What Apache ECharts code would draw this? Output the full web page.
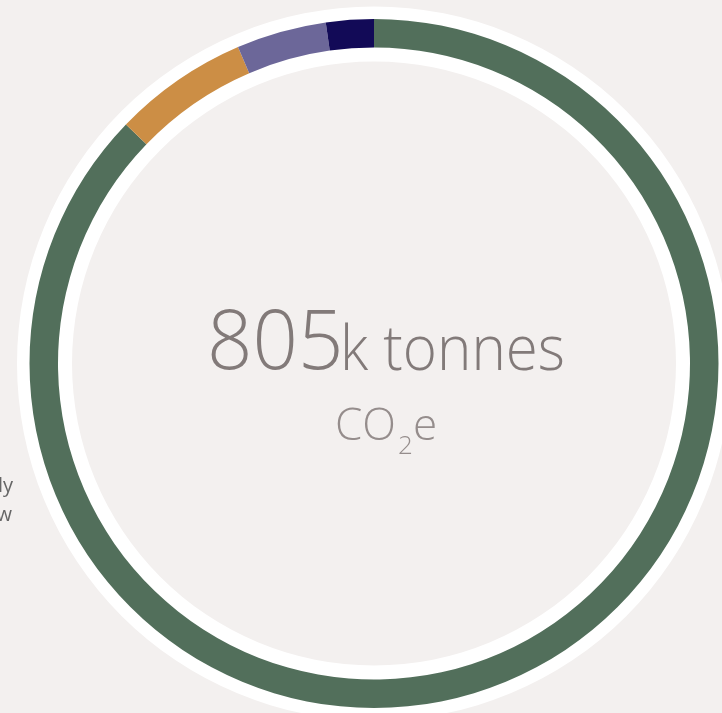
<!DOCTYPE html>
<html>
<head>
<meta charset="utf-8">
<script src="https://cdn.jsdelivr.net/npm/echarts@6/dist/echarts.min.js"></script>
<style>
html,body{margin:0;padding:0;background:#f3f0ef;}
#c{width:722px;height:713px;}
</style>
</head>
<body>
<div id="c"></div>
<script>
const categories = ['Green', 'Orange', 'Purple', 'Navy'];
const values = [702, 51, 34, 18];
const colors = ['#526f5b', '#cc8e45', '#6c6799', '#120a57'];
const totalLabel = '805';
const unitLabel = 'k tonnes';
const sideLines = ['ly', 'w'];

const chart = echarts.init(document.getElementById('c'), null, {renderer: 'canvas'});
const font = '"Open Sans", "Noto Sans", sans-serif';
chart.setOption({
  backgroundColor: '#f3f0ef',
  animation: false,
  series: [
    {
      type: 'pie',
      silent: true,
      center: [374, 363.5],
      radius: [302, 357],
      label: {show: false},
      labelLine: {show: false},
      itemStyle: {color: '#ffffff'},
      data: [{value: 1, name: 'ring'}],
      z: 1
    },
    {
      type: 'pie',
      center: [374, 363.5],
      radius: [316, 344.5],
      startAngle: 90,
      clockwise: true,
      label: {show: false},
      labelLine: {show: false},
      z: 2,
      data: categories.map((c, i) => ({name: c, value: values[i], itemStyle: {color: colors[i]}}))
    }
  ],
  graphic: [
    {type: 'text', x: 207, y: 387, scaleX: 0.96, z: 10,
      style: {text: totalLabel, fontFamily: font, fontWeight: 300, fontSize: 83, fill: '#827a79', textAlign: 'left', textVerticalAlign: 'bottom'}},
    {type: 'text', x: 340, y: 383, scaleX: 0.94, z: 10,
      style: {text: unitLabel, fontFamily: font, fontWeight: 300, fontSize: 62, fill: '#827a79', textAlign: 'left', textVerticalAlign: 'bottom'}},
    {type: 'text', x: 335, y: 449, z: 10,
      style: {text: 'CO', fontFamily: font, fontWeight: 300, fontSize: 44, fill: '#958d8c', textAlign: 'left', textVerticalAlign: 'bottom'}},
    {type: 'text', x: 398, y: 460, z: 10,
      style: {text: '2', fontFamily: font, fontWeight: 300, fontSize: 26, fill: '#958d8c', textAlign: 'left', textVerticalAlign: 'bottom'}},
    {type: 'text', x: 413, y: 449, z: 10,
      style: {text: 'e', fontFamily: font, fontWeight: 300, fontSize: 44, fill: '#958d8c', textAlign: 'left', textVerticalAlign: 'bottom'}},
    {type: 'text', x: 13, y: 496, z: 10,
      style: {text: sideLines[0], fontFamily: font, fontSize: 20, fill: '#666666', textAlign: 'right', textVerticalAlign: 'bottom'}},
    {type: 'text', x: 12, y: 525, z: 10,
      style: {text: sideLines[1], fontFamily: font, fontSize: 20, fill: '#666666', textAlign: 'right', textVerticalAlign: 'bottom'}}
  ]
});
</script>
</body>
</html>
